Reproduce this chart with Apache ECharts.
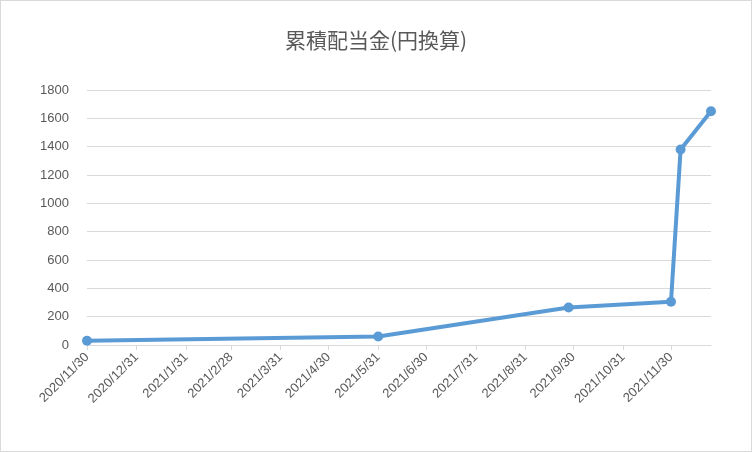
<!DOCTYPE html>
<html><head><meta charset="utf-8">
<script src="https://cdn.jsdelivr.net/npm/echarts@6/dist/echarts.min.js"></script>
<style>html,body{margin:0;padding:0;background:#fff}#c{width:750px;height:450px;border:1px solid #d9d9d9}</style>
</head><body><div id="c"></div>
<script>
var pointDates = ['2020/11/30','2021/5/31','2021/9/27','2021/11/30','2021/12/6','2021/12/25'];
var pointValues = [30, 60, 265, 305, 1380, 1650];
var axisStart = '2020/11/30', axisEnd = '2021/12/25';

function fmt(d){return d.getFullYear()+'/'+(d.getMonth()+1)+'/'+d.getDate();}
var cats=[], isEnd=[];
var d=new Date(axisStart), e=new Date(axisEnd);
while(d<=e){cats.push(fmt(d));var n=new Date(d);n.setDate(n.getDate()+1);isEnd.push(n.getMonth()!==d.getMonth());d=n;}
var iv=function(i){return isEnd[i];};
var chart=echarts.init(document.getElementById('c'));
chart.setOption({
  title:{text:'累積配当金(円換算)',left:'center',top:24,textStyle:{fontSize:21,fontWeight:'normal',color:'#595959',fontFamily:'Noto Sans CJK JP'}},
  grid:{left:86,right:40,top:89,bottom:106},
  xAxis:{type:'category',data:cats,boundaryGap:false,
    axisLine:{lineStyle:{color:'#d9d9d9'}},
    axisTick:{show:true,interval:iv,length:5,lineStyle:{color:'#d9d9d9'}},
    axisLabel:{interval:iv,rotate:45,color:'#595959',fontSize:13,fontFamily:'Liberation Sans',margin:10}},
  yAxis:{type:'value',min:0,max:1800,interval:200,
    axisLine:{show:false},axisTick:{show:false},
    axisLabel:{color:'#595959',fontSize:13,fontFamily:'Liberation Sans',margin:18,formatter:function(v){return String(v);}},
    splitLine:{lineStyle:{color:'#d9d9d9'}}},
  series:[{type:'line',data:pointDates.map(function(x,i){return [x,pointValues[i]];}),
    showAllSymbol:true,symbol:'circle',symbolSize:10,lineStyle:{width:4,color:'#5b9bd5'},itemStyle:{color:'#5b9bd5'}}]
});
</script></body></html>
